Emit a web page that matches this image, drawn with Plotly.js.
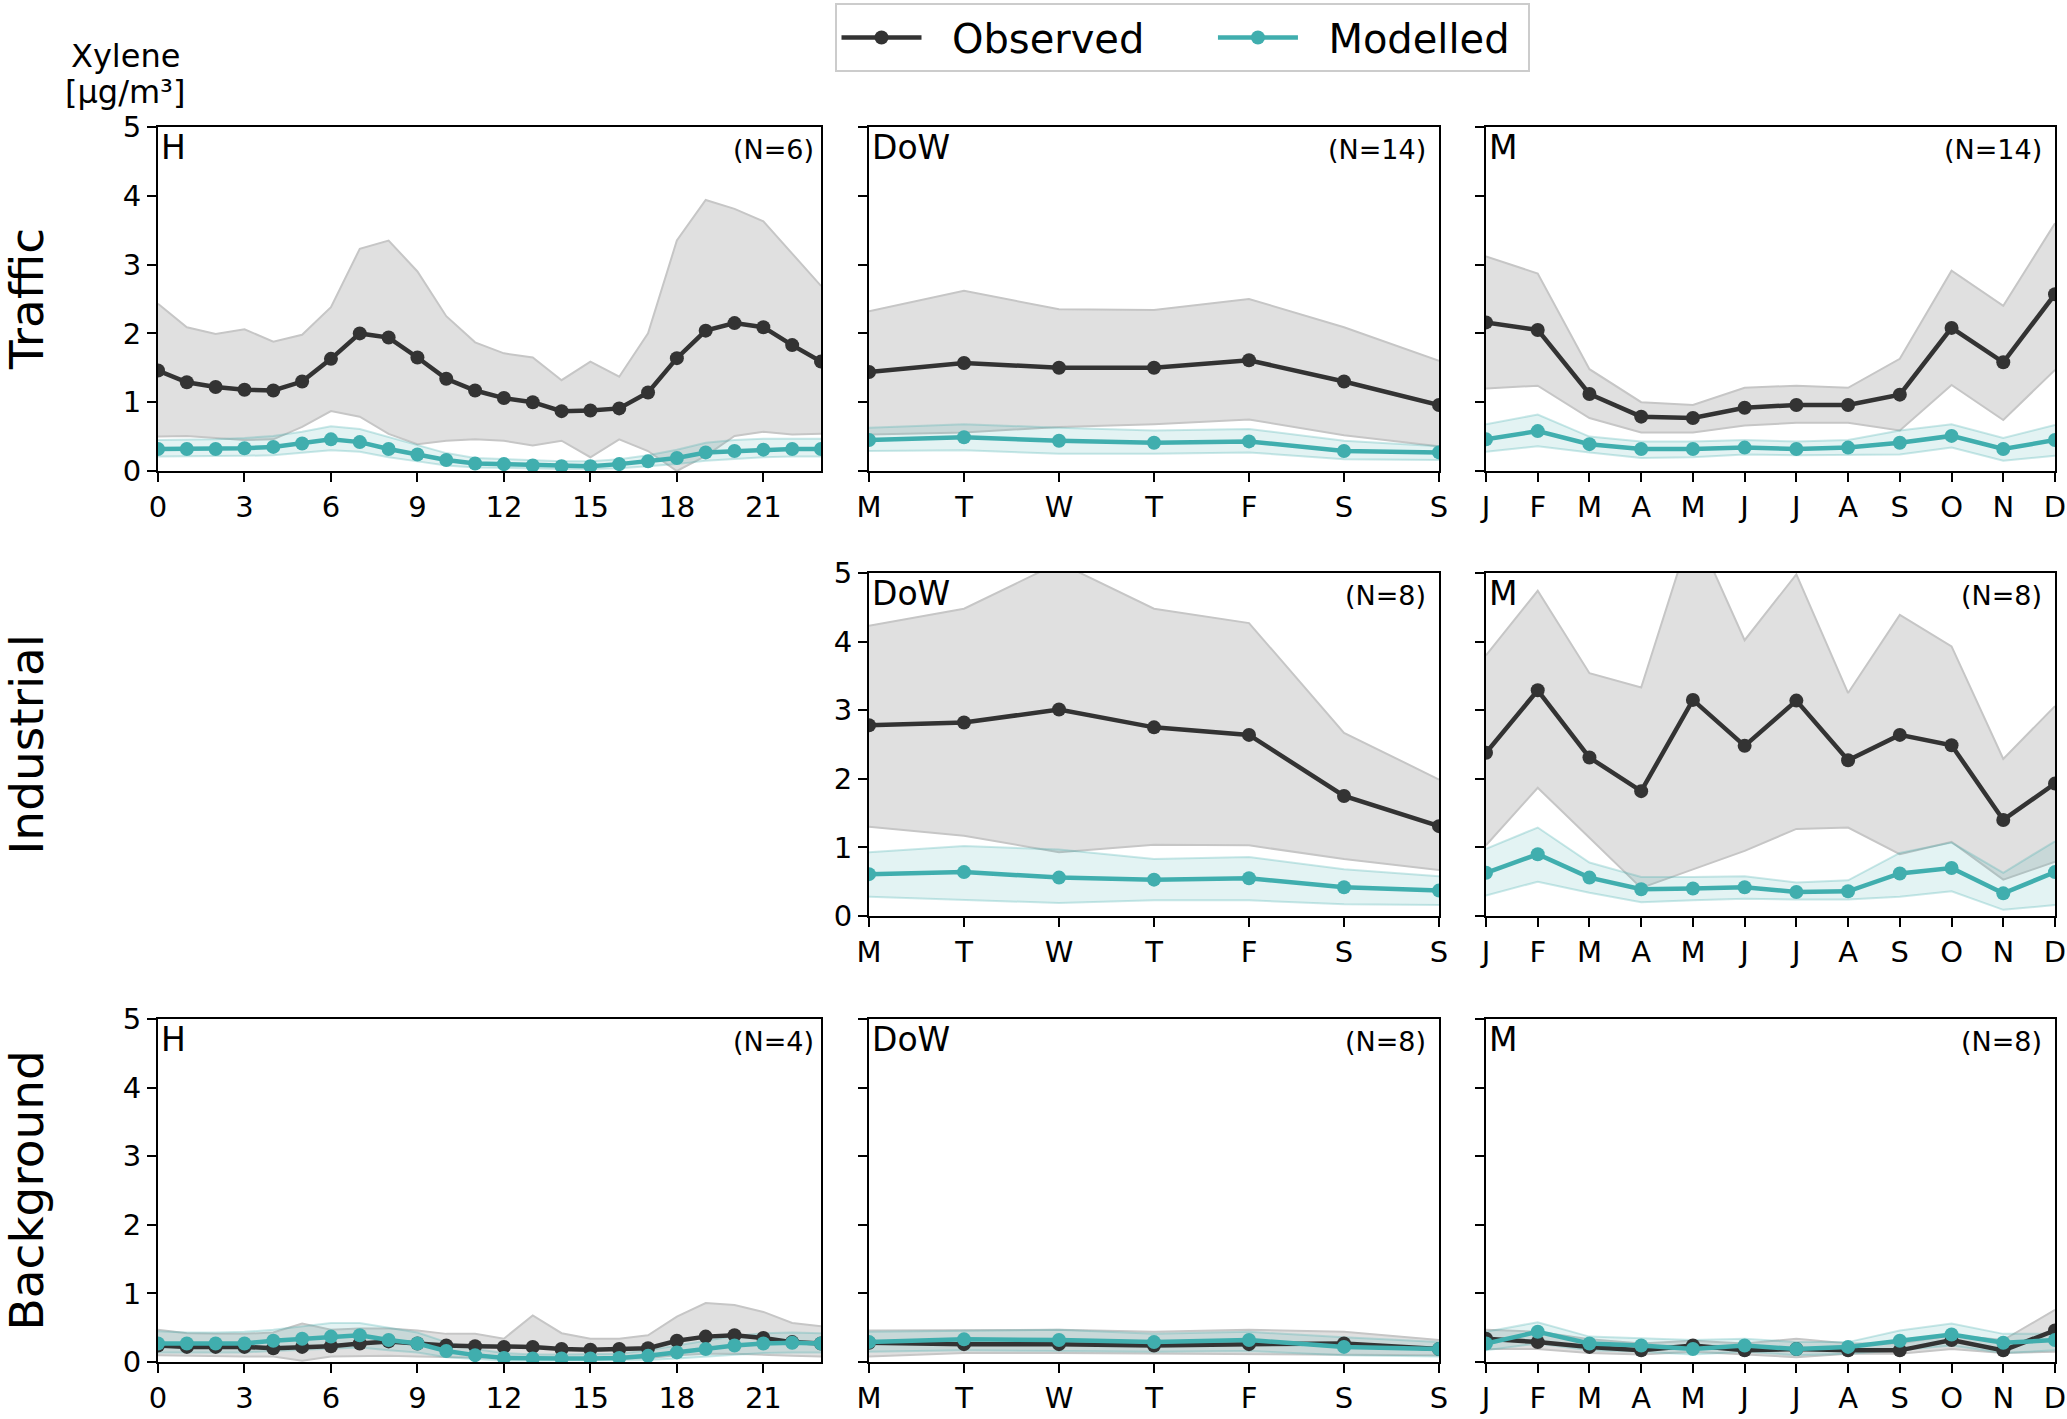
<!DOCTYPE html>
<html>
<head>
<meta charset="utf-8">
<script src="https://cdn.plot.ly/plotly-3.0.1.min.js"></script>
<style>html,body{margin:0;padding:0;background:#fff;}#chart{width:2067px;height:1419px;}</style>
</head>
<body>
<div id="chart"></div>
<script>
// ---------- categories / tick labels ----------
var hours = [0,1,2,3,4,5,6,7,8,9,10,11,12,13,14,15,16,17,18,19,20,21,22,23];
var hourTicks = [0,3,6,9,12,15,18,21];
var dowIdx = [0,1,2,3,4,5,6];
var dowLabels = ["M","T","W","T","F","S","S"];
var monIdx = [0,1,2,3,4,5,6,7,8,9,10,11];
var monLabels = ["J","F","M","A","M","J","J","A","S","O","N","D"];

// ---------- Traffic, hourly (N=6) ----------
var trafH_obs   = [1.46,1.29,1.22,1.18,1.17,1.30,1.63,2.00,1.94,1.65,1.34,1.17,1.06,1.00,0.87,0.88,0.91,1.14,1.64,2.04,2.15,2.09,1.83,1.59];
var trafH_obsHi = [2.43,2.09,1.99,2.06,1.88,1.98,2.38,3.23,3.35,2.90,2.25,1.87,1.71,1.65,1.32,1.59,1.37,2.00,3.35,3.94,3.81,3.63,3.16,2.69];
var trafH_obsLo = [0.50,0.51,0.48,0.45,0.46,0.64,0.87,0.79,0.54,0.39,0.44,0.46,0.44,0.37,0.44,0.20,0.46,0.29,0.00,0.22,0.51,0.57,0.53,0.54];
var trafH_mod   = [0.32,0.32,0.32,0.33,0.35,0.40,0.46,0.42,0.32,0.24,0.16,0.11,0.10,0.08,0.07,0.07,0.10,0.14,0.19,0.27,0.29,0.31,0.32,0.32];
var trafH_modHi = [0.45,0.45,0.46,0.48,0.51,0.57,0.65,0.61,0.49,0.37,0.26,0.19,0.17,0.15,0.14,0.14,0.17,0.23,0.31,0.41,0.45,0.47,0.47,0.47];
var trafH_modLo = [0.21,0.21,0.21,0.22,0.23,0.26,0.30,0.28,0.20,0.14,0.08,0.05,0.04,0.03,0.03,0.03,0.04,0.07,0.10,0.15,0.18,0.20,0.21,0.21];

// ---------- Traffic, day of week (N=14) ----------
var trafD_obs   = [1.44,1.57,1.50,1.50,1.61,1.30,0.96];
var trafD_obsHi = [2.32,2.62,2.35,2.34,2.50,2.09,1.60];
var trafD_obsLo = [0.53,0.56,0.64,0.68,0.75,0.52,0.36];
var trafD_mod   = [0.45,0.49,0.44,0.41,0.43,0.29,0.27];
var trafD_modHi = [0.63,0.68,0.63,0.59,0.61,0.44,0.36];
var trafD_modLo = [0.29,0.30,0.25,0.25,0.27,0.17,0.16];

// ---------- Traffic, monthly (N=14) ----------
var trafM_obs   = [2.16,2.05,1.12,0.79,0.77,0.92,0.96,0.96,1.11,2.08,1.58,2.57];
var trafM_obsHi = [3.12,2.87,1.48,1.00,0.96,1.21,1.24,1.21,1.63,2.91,2.40,3.60];
var trafM_obsLo = [1.20,1.24,0.77,0.56,0.56,0.66,0.70,0.70,0.59,1.25,0.74,1.47];
var trafM_mod   = [0.46,0.58,0.39,0.32,0.32,0.34,0.32,0.34,0.41,0.51,0.32,0.45];
var trafM_modHi = [0.68,0.82,0.50,0.43,0.43,0.45,0.43,0.45,0.59,0.68,0.48,0.67];
var trafM_modLo = [0.28,0.36,0.27,0.19,0.20,0.24,0.23,0.24,0.24,0.34,0.15,0.22];

// ---------- Industrial, day of week (N=8) ----------
var indD_obs   = [2.78,2.82,3.01,2.75,2.64,1.75,1.31];
var indD_obsHi = [4.23,4.48,5.15,4.48,4.27,2.67,1.99];
var indD_obsLo = [1.30,1.17,0.93,1.04,1.03,0.83,0.67];
var indD_mod   = [0.61,0.64,0.56,0.53,0.55,0.42,0.37];
var indD_modHi = [0.93,1.02,0.97,0.83,0.86,0.68,0.58];
var indD_modLo = [0.28,0.24,0.19,0.23,0.23,0.17,0.16];

// ---------- Industrial, monthly (N=8) ----------
var indM_obs   = [2.38,3.29,2.31,1.82,3.15,2.48,3.14,2.27,2.64,2.49,1.40,1.93];
var indM_obsHi = [3.80,4.74,3.54,3.33,5.70,4.02,4.98,3.25,4.39,3.93,2.29,3.06];
var indM_obsLo = [1.03,1.87,1.14,0.41,0.68,0.95,1.27,1.29,0.90,1.08,0.53,0.79];
var indM_mod   = [0.63,0.90,0.56,0.39,0.40,0.42,0.35,0.36,0.62,0.70,0.33,0.64];
var indM_modHi = [0.98,1.29,0.78,0.57,0.57,0.58,0.49,0.52,0.92,1.07,0.63,1.09];
var indM_modLo = [0.30,0.50,0.34,0.20,0.23,0.25,0.24,0.24,0.28,0.36,0.09,0.16];

// ---------- Background, hourly (N=4) ----------
var bgH_obs   = [0.24,0.22,0.22,0.22,0.20,0.22,0.23,0.27,0.30,0.27,0.24,0.23,0.22,0.22,0.19,0.18,0.19,0.20,0.31,0.37,0.39,0.35,0.29,0.27];
var bgH_obsHi = [0.47,0.42,0.41,0.41,0.43,0.56,0.47,0.49,0.49,0.46,0.41,0.41,0.34,0.68,0.42,0.34,0.34,0.39,0.66,0.86,0.83,0.73,0.57,0.52];
var bgH_obsLo = [0.10,0.09,0.08,0.08,0.08,0.02,0.08,0.09,0.09,0.08,0.07,0.07,0.06,0.06,0.05,0.05,0.05,0.06,0.10,0.12,0.12,0.10,0.09,0.08];
var bgH_mod   = [0.27,0.27,0.27,0.27,0.31,0.34,0.37,0.39,0.32,0.27,0.16,0.10,0.06,0.05,0.05,0.05,0.06,0.09,0.14,0.19,0.24,0.27,0.28,0.27];
var bgH_modHi = [0.45,0.43,0.43,0.44,0.47,0.52,0.57,0.57,0.50,0.43,0.29,0.19,0.13,0.11,0.11,0.11,0.12,0.17,0.24,0.32,0.38,0.42,0.43,0.42];
var bgH_modLo = [0.14,0.14,0.14,0.14,0.16,0.18,0.20,0.21,0.17,0.14,0.07,0.04,0.02,0.02,0.02,0.02,0.02,0.03,0.05,0.08,0.11,0.13,0.14,0.14];

// ---------- Background, day of week (N=8) ----------
var bgD_obs   = [0.28,0.26,0.26,0.24,0.26,0.27,0.19];
var bgD_obsHi = [0.46,0.46,0.47,0.44,0.47,0.44,0.32];
var bgD_obsLo = [0.08,0.13,0.13,0.12,0.12,0.11,0.10];
var bgD_mod   = [0.29,0.33,0.32,0.29,0.32,0.22,0.19];
var bgD_modHi = [0.44,0.46,0.47,0.41,0.44,0.36,0.29];
var bgD_modLo = [0.15,0.17,0.16,0.15,0.16,0.10,0.08];

// ---------- Background, monthly (N=8) ----------
var bgM_obs   = [0.34,0.29,0.22,0.17,0.24,0.17,0.19,0.17,0.17,0.32,0.17,0.46];
var bgM_obsHi = [0.47,0.44,0.33,0.27,0.31,0.27,0.34,0.27,0.27,0.39,0.32,0.76];
var bgM_obsLo = [0.19,0.19,0.13,0.11,0.15,0.11,0.07,0.12,0.12,0.19,0.13,0.15];
var bgM_mod   = [0.27,0.44,0.27,0.24,0.19,0.24,0.19,0.22,0.31,0.40,0.28,0.32];
var bgM_modHi = [0.44,0.58,0.37,0.34,0.32,0.34,0.29,0.29,0.46,0.56,0.41,0.41];
var bgM_modLo = [0.17,0.27,0.17,0.15,0.11,0.15,0.10,0.12,0.17,0.24,0.13,0.17];

// ---------- panel texts ----------
var panelTags = ["H","DoW","M","DoW","M","H","DoW","M"];
var panelN = ["(N=6)","(N=14)","(N=14)","(N=8)","(N=8)","(N=4)","(N=8)","(N=8)"];
var rowNames = ["Traffic","Industrial","Background"];
var seriesNames = ["Observed","Modelled"];

// ---------- styles ----------
var FONT = "DejaVu Sans, sans-serif";
var OBS = "#333333";
var MOD = "#40aeae";
var GREY_FILL = "#e0e0e0";
var GREY_EDGE = "#c6c6c6";
var TEAL_FILL = "rgba(64,174,174,0.15)";
var TEAL_EDGE = "rgba(64,174,174,0.28)";
var NB = "\u00a0";

var panels = [
  {x: hours,  kind: "H", d: [trafH_obs,trafH_obsLo,trafH_obsHi,trafH_mod,trafH_modLo,trafH_modHi], col: 0, row: 0, ylab: true},
  {x: dowIdx, kind: "D", d: [trafD_obs,trafD_obsLo,trafD_obsHi,trafD_mod,trafD_modLo,trafD_modHi], col: 1, row: 0, ylab: false},
  {x: monIdx, kind: "M", d: [trafM_obs,trafM_obsLo,trafM_obsHi,trafM_mod,trafM_modLo,trafM_modHi], col: 2, row: 0, ylab: false},
  {x: dowIdx, kind: "D", d: [indD_obs,indD_obsLo,indD_obsHi,indD_mod,indD_modLo,indD_modHi], col: 1, row: 1, ylab: true},
  {x: monIdx, kind: "M", d: [indM_obs,indM_obsLo,indM_obsHi,indM_mod,indM_modLo,indM_modHi], col: 2, row: 1, ylab: false},
  {x: hours,  kind: "H", d: [bgH_obs,bgH_obsLo,bgH_obsHi,bgH_mod,bgH_modLo,bgH_modHi], col: 0, row: 2, ylab: true},
  {x: dowIdx, kind: "D", d: [bgD_obs,bgD_obsLo,bgD_obsHi,bgD_mod,bgD_modLo,bgD_modHi], col: 1, row: 2, ylab: false},
  {x: monIdx, kind: "M", d: [bgM_obs,bgM_obsLo,bgM_obsHi,bgM_mod,bgM_modLo,bgM_modHi], col: 2, row: 2, ylab: false}
];

var W = 2067, Hh = 1419;
var colDom = [[158/W, 821/W],[869/W, 1439/W],[1486/W, 2055/W]];
var rowDom = [[1-471/Hh, 1-127/Hh],[1-916/Hh, 1-573/Hh],[1-1362/Hh, 1-1019/Hh]];

var data = [];
var layout = {
  width: W, height: Hh,
  margin: {l:0, r:0, t:0, b:0},
  paper_bgcolor: "#fff", plot_bgcolor: "#fff",
  font: {family: FONT, color: "#000", size: 29},
  showlegend: true,
  legend: {
    orientation: "h", x: 1182/W, xanchor: "center", y: 1 - 3/Hh, yanchor: "top",
    bordercolor: "#cccccc", borderwidth: 2, bgcolor: "#fff",
    font: {family: FONT, size: 40, color: "#000"},
    itemwidth: 80, traceorder: "normal"
  },
  annotations: []
};

var legendNames = [NB + NB + seriesNames[0] + NB + NB + NB + NB + NB, NB + NB + seriesNames[1] + NB];

panels.forEach(function(p, i){
  var n = i + 1;
  var xa = "x" + (n === 1 ? "" : n), ya = "y" + (n === 1 ? "" : n);
  var d = p.d;
  // observed band
  data.push({x: p.x, y: d[1], xaxis: xa, yaxis: ya, type: "scatter", mode: "lines",
    line: {color: GREY_EDGE, width: 2}, showlegend: false, hoverinfo: "skip"});
  data.push({x: p.x, y: d[2], xaxis: xa, yaxis: ya, type: "scatter", mode: "lines", fill: "tonexty",
    fillcolor: GREY_FILL, line: {color: GREY_EDGE, width: 2}, showlegend: false, hoverinfo: "skip"});
  // modelled band
  data.push({x: p.x, y: d[4], xaxis: xa, yaxis: ya, type: "scatter", mode: "lines",
    line: {color: TEAL_EDGE, width: 2}, showlegend: false, hoverinfo: "skip"});
  data.push({x: p.x, y: d[5], xaxis: xa, yaxis: ya, type: "scatter", mode: "lines", fill: "tonexty",
    fillcolor: TEAL_FILL, line: {color: TEAL_EDGE, width: 2}, showlegend: false, hoverinfo: "skip"});
  // means
  data.push({x: p.x, y: d[0], xaxis: xa, yaxis: ya, type: "scatter", mode: "lines+markers", name: legendNames[0],
    line: {color: OBS, width: 4.5}, marker: {color: OBS, size: 14}, showlegend: i === 0, legendgroup: "obs"});
  data.push({x: p.x, y: d[3], xaxis: xa, yaxis: ya, type: "scatter", mode: "lines+markers", name: legendNames[1],
    line: {color: MOD, width: 4.5}, marker: {color: MOD, size: 14}, showlegend: i === 0, legendgroup: "mod"});

  var xaxis = {
    domain: colDom[p.col], anchor: ya, showgrid: false, zeroline: false,
    showline: true, linecolor: "#000", linewidth: 2, mirror: true,
    ticks: "outside", ticklen: 9, tickwidth: 2, tickcolor: "#000",
    tickfont: {family: FONT, size: 29, color: "#000"}, fixedrange: true
  };
  if (p.kind === "H") { xaxis.range = [0, 23]; xaxis.tickmode = "array"; xaxis.tickvals = hourTicks; xaxis.ticktext = hourTicks.map(String); }
  if (p.kind === "D") { xaxis.range = [0, 6]; xaxis.tickmode = "array"; xaxis.tickvals = dowIdx; xaxis.ticktext = dowLabels; }
  if (p.kind === "M") { xaxis.range = [0, 11]; xaxis.tickmode = "array"; xaxis.tickvals = monIdx; xaxis.ticktext = monLabels; }
  var yaxis = {
    domain: rowDom[p.row], anchor: xa, range: [0, 5], tickmode: "array", tickvals: [0,1,2,3,4,5],
    showgrid: false, zeroline: false, showline: true, linecolor: "#000", linewidth: 2, mirror: true,
    ticks: "outside", ticklen: 9, tickwidth: 2, tickcolor: "#000",
    showticklabels: p.ylab, tickfont: {family: FONT, size: 29, color: "#000"}, fixedrange: true
  };
  layout["xaxis" + (n === 1 ? "" : n)] = xaxis;
  layout["yaxis" + (n === 1 ? "" : n)] = yaxis;

  layout.annotations.push({xref: xa + " domain", yref: ya + " domain", x: 0, y: 1, xanchor: "left", yanchor: "top",
    xshift: 1, yshift: 1, text: panelTags[i], showarrow: false, font: {family: FONT, size: 33, color: "#000"}});
  layout.annotations.push({xref: xa + " domain", yref: ya + " domain", x: 1, y: 1, xanchor: "right", yanchor: "top",
    xshift: (p.col === 0 ? -5 : -11), yshift: -5, text: panelN[i], showarrow: false, font: {family: FONT, size: 27, color: "#000"}});
});

// row titles
var rowCenters = [(127+471)/2, (573+916)/2, (1019+1362)/2];
rowNames.forEach(function(r, k){
  layout.annotations.push({xref: "paper", yref: "paper", x: 26/W, y: 1 - rowCenters[k]/Hh, xanchor: "center", yanchor: "middle",
    text: r, textangle: -90, showarrow: false, font: {family: FONT, size: 47, color: "#000"}});
});
// y unit label (two lines)
layout.annotations.push({xref: "paper", yref: "paper", x: 125/W, y: 1 - 56/Hh, xanchor: "center", yanchor: "middle",
  text: "Xylene", showarrow: false, font: {family: FONT, size: 32, color: "#000"}});
layout.annotations.push({xref: "paper", yref: "paper", x: 125/W, y: 1 - 92/Hh, xanchor: "center", yanchor: "middle",
  text: "[μg/m³]", showarrow: false, font: {family: FONT, size: 32, color: "#000"}});

Plotly.newPlot("chart", data, layout, {displayModeBar: false, staticPlot: true});
</script>
</body>
</html>
